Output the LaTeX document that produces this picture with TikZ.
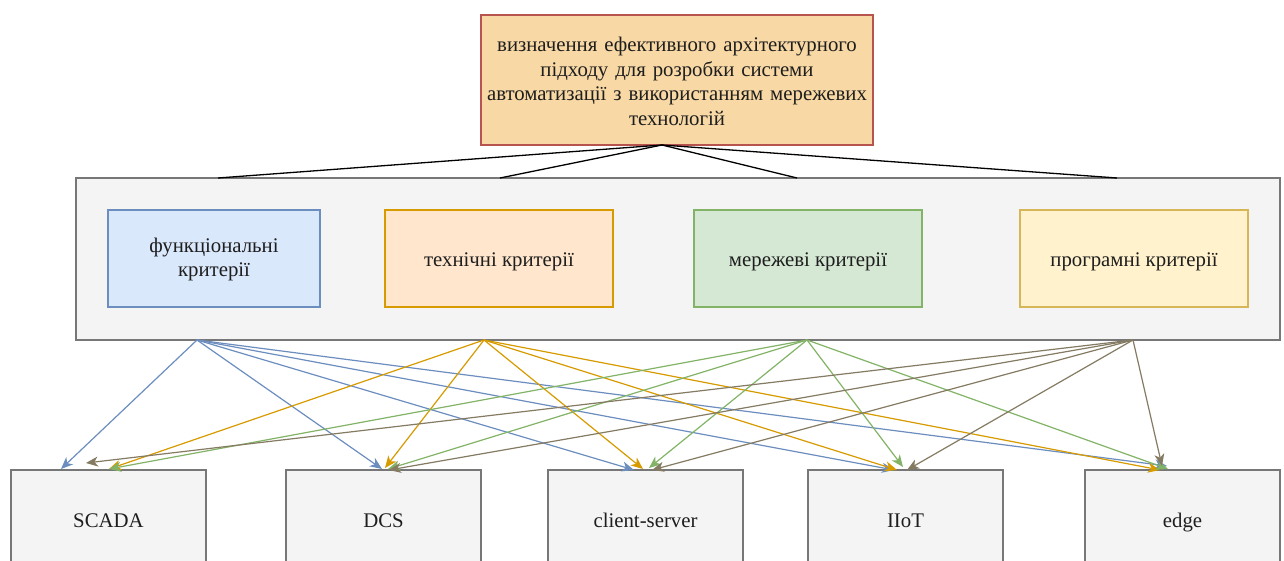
\documentclass[tikz,border=0pt]{standalone}
\usepackage{fontspec}
\setmainfont{Liberation Serif}
\usetikzlibrary{arrows.meta}
\definecolor{topfill}{HTML}{F8D8A4}
\definecolor{topdraw}{HTML}{B85450}
\definecolor{grayfill}{HTML}{F4F4F4}
\definecolor{graydraw}{HTML}{777777}
\definecolor{bluefill}{HTML}{DAE8FC}
\definecolor{bluedraw}{HTML}{6C8EBF}
\definecolor{orfill}{HTML}{FFE6CC}
\definecolor{ordraw}{HTML}{D79B00}
\definecolor{grfill}{HTML}{D5E8D4}
\definecolor{grdraw}{HTML}{82B366}
\definecolor{yefill}{HTML}{FFF2CC}
\definecolor{yedraw}{HTML}{D6B656}
\definecolor{brdraw}{HTML}{857B63}
\definecolor{txt}{HTML}{1E1E1E}
\tikzset{
  box/.style={draw, line width=1.2pt, inner sep=0pt},
  lbl/.style={inner sep=0pt, align=center, text=txt, font=\fontsize{20.8}{24.6}\selectfont},
  conn/.style={line width=1.2pt, -{Stealth[length=12pt,width=10pt,inset=3.5pt]}},
  topline/.style={line width=1.3pt, black},
}
\begin{document}
\begin{tikzpicture}[x=1pt,y=-1pt]
\useasboundingbox[fill=white] (0,0) rectangle (1284,561);
% top box
\node[box, fill=topfill, draw=topdraw, minimum width=392pt, minimum height=130pt] (top) at (677,80) {};
\node[lbl, text width=385pt] (topT) at (677,85) {визначення ефективного архітектурного\\підходу для розробки системи\\автоматизації з використанням мережевих\\технологій\strut};
% container
\node[box, fill=grayfill, draw=graydraw, minimum width=1204pt, minimum height=162pt] (cont) at (678,259) {};
% criteria
\node[box, fill=bluefill, draw=bluedraw, minimum width=212pt, minimum height=97pt] (func) at (214,258.5) {};
\node[lbl] (funcT) at (214,261) {функціональні\\критерії\strut};
\node[box, fill=orfill, draw=ordraw, minimum width=228pt, minimum height=97pt] (tech) at (499,258.5) {};
\node[lbl] (techT) at (499,262) {\strut технічні критерії};
\node[box, fill=grfill, draw=grdraw, minimum width=228pt, minimum height=97pt] (net) at (808,258.5) {};
\node[lbl] (netT) at (808,262) {\strut мережеві критерії};
\node[box, fill=yefill, draw=yedraw, minimum width=228pt, minimum height=97pt] (prog) at (1134,258.5) {};
\node[lbl] (progT) at (1134,262) {\strut програмні критерії};
% bottom boxes
\foreach \n/\x/\t in {scada/108.5/SCADA, dcs/383.5/DCS, cs/645.5/client-server, iiot/905.5/IIoT, edge/1182.5/edge}{
  \node[box, fill=grayfill, draw=graydraw, minimum width=195pt, minimum height=120pt] (\n) at (\x,530) {};
  \node[lbl] (\n T) at (\x,523) {\strut \t};
}
% top lines
\coordinate (tp) at (662,145);
\coordinate (c1) at (218,178);
\coordinate (c2) at (500,178);
\coordinate (c3) at (797,178);
\coordinate (c4) at (1117,178);
\foreach \c in {c1,c2,c3,c4} \draw[topline] (tp) -- (\c);
% sources
\coordinate (sB) at (197,340);
\coordinate (sO) at (484,340);
\coordinate (sG) at (807,340);
\coordinate (sR) at (1133,340);
% targets
\coordinate (tBs) at (61,469);   \coordinate (tOs) at (109,469);  \coordinate (tGs) at (109,469);  \coordinate (tRs) at (86,463);
\coordinate (tBd) at (382,469);  \coordinate (tOd) at (385,468);  \coordinate (tGd) at (388,469);  \coordinate (tRd) at (389,470);
\coordinate (tBc) at (634,470);  \coordinate (tOc) at (643,469);  \coordinate (tGc) at (649,468);  \coordinate (tRc) at (652,470);
\coordinate (tBi) at (894,470);  \coordinate (tOi) at (897,470);  \coordinate (tGi) at (903,467);  \coordinate (tRi) at (907,470);
\coordinate (tBe) at (1167,466); \coordinate (tOe) at (1160,470); \coordinate (tGe) at (1168,469); \coordinate (tRe) at (1162,466);
% arrows
\foreach \t in {s,d,c,i,e} \draw[conn, bluedraw] (sB) -- (tB\t);
\foreach \t in {s,d,c,i,e} \draw[conn, ordraw] (sO) -- (tO\t);
\foreach \t in {s,d,c,i,e} \draw[conn, grdraw] (sG) -- (tG\t);
\foreach \t in {s,d,c,i,e} \draw[conn, brdraw] (sR) -- (tR\t);
\end{tikzpicture}
\end{document}
